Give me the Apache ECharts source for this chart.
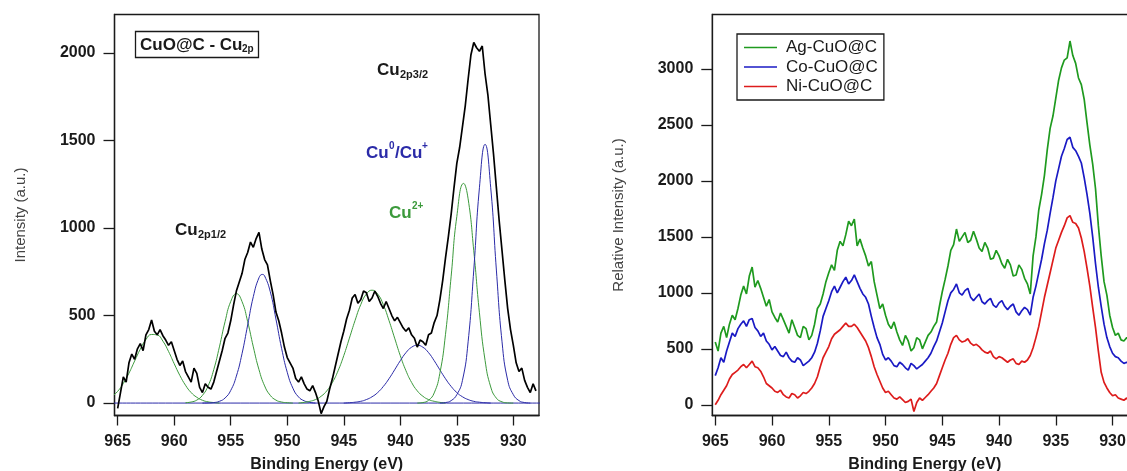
<!DOCTYPE html>
<html>
<head>
<meta charset="utf-8">
<script src="https://cdn.jsdelivr.net/npm/echarts@6/dist/echarts.min.js"></script>
<style>
  html, body { margin: 0; padding: 0; background: #fff; }
  #chart { width: 1127px; height: 471px; }
</style>
</head>
<body>
<div id="chart"></div>
<script>
// measured spectra, read every 0.25 eV starting at 965 eV going down
const measStart = 965
const measStep = 0.25
const cuoC = [-30, 60, 150, 120, 230, 280, 250, 310, 340, 300, 390, 420, 475, 410, 390, 420, 385, 360, 330, 350,
  300, 250, 215, 240, 180, 150, 120, 200, 170, 90, 60, 110, 90, 80, 120, 180, 240, 300, 370, 400,
  470, 560, 640, 690, 740, 820, 860, 920, 890, 940, 975, 880, 820, 790, 700, 620, 520, 470, 400, 320,
  260, 230, 200, 140, 120, 150, 110, 80, 70, 100, 60, 10, -60, -20, 10, 80, 140, 210, 280, 350,
  410, 480, 530, 600, 620, 570, 590, 640, 630, 580, 600, 640, 610, 570, 540, 580, 540, 500, 470, 490,
  460, 430, 410, 430, 390, 370, 320, 360, 350, 330, 390, 400, 460, 500, 590, 700, 830, 950, 1080, 1230,
  1370, 1460, 1580, 1700, 1850, 1990, 2060, 2030, 2010, 2040, 1880, 1760, 1590, 1420, 1230, 1040, 870, 700, 540, 420,
  330, 230, 180, 200, 130, 90, 60, 110, 70]
const agCuoC = [560, 480, 640, 700, 600, 720, 800, 760, 860, 980, 1060, 990, 1150, 1230, 1050, 1110, 1040, 960, 880, 940,
  830, 780, 740, 820, 760, 700, 640, 760, 690, 620, 600, 700, 680, 580, 620, 720, 860, 900, 990, 1100,
  1180, 1250, 1200, 1380, 1460, 1420, 1520, 1640, 1600, 1660, 1420, 1480, 1400, 1330, 1240, 1280, 1100, 980, 860, 900,
  800, 720, 680, 740, 650, 580, 530, 620, 570, 480, 510, 600, 580, 500, 560, 620, 650, 700, 740, 880,
  1010, 1120, 1240, 1380, 1430, 1570, 1460, 1500, 1540, 1450, 1470, 1550, 1480, 1400, 1370, 1450, 1400, 1300, 1310, 1380,
  1330, 1260, 1220, 1300, 1250, 1150, 1160, 1250, 1210, 1130, 1080, 990, 1330, 1500, 1740, 1880, 2050, 2280, 2470, 2580,
  2740, 2900, 3010, 3080, 3100, 3250, 3120, 3050, 2920, 2860, 2730, 2520, 2320, 2150, 1930, 1600, 1330, 1100, 980, 800,
  690, 620, 640, 580, 570, 600, 560, 520, 540]
const coCuoC = [260, 330, 420, 380, 480, 560, 640, 610, 680, 720, 750, 700, 760, 770, 690, 660, 610, 640, 570, 540,
  490, 520, 480, 440, 430, 470, 420, 390, 380, 420, 400, 350, 370, 390, 420, 470, 550, 660, 790, 860,
  930, 1010, 1060, 1000, 1050, 1100, 1140, 1080, 1110, 1160, 1100, 1040, 990, 960, 900, 790, 690, 600, 540, 450,
  400, 420, 390, 350, 340, 380, 360, 330, 310, 370, 350, 320, 340, 360, 390, 420, 460, 520, 570, 650,
  730, 830, 930, 1000, 1030, 1080, 1000, 980, 1020, 1040, 960, 930, 960, 990, 920, 900, 930, 950, 890, 870,
  910, 930, 880, 850, 880, 900, 830, 800, 840, 870, 850, 800, 960, 1060, 1180, 1300, 1440, 1560, 1710, 1850,
  2000, 2110, 2220, 2290, 2370, 2390, 2300, 2270, 2220, 2160, 2030, 1880, 1710, 1500, 1260, 1050, 880, 720, 600, 520,
  460, 430, 420, 390, 370, 380, 350, 320, 330]
const niCuoC = [0, 40, 90, 130, 170, 230, 270, 290, 310, 340, 360, 330, 360, 390, 340, 330, 300, 250, 190, 170,
  150, 120, 110, 130, 90, 70, 60, 100, 90, 60, 80, 110, 100, 120, 150, 190, 250, 340, 420, 470,
  520, 590, 630, 650, 670, 700, 730, 700, 700, 720, 690, 650, 610, 570, 510, 430, 340, 270, 210, 150,
  110, 120, 90, 60, 50, 70, 45, 20, 30, 50, -60, 20, 60, 40, 65, 90, 120, 150, 190, 260,
  330, 400, 460, 540, 600, 620, 580, 560, 570, 590, 550, 530, 540, 520, 490, 470, 460, 480, 430, 410,
  430, 420, 400, 380, 400, 410, 370, 360, 390, 380, 400, 440, 510, 600, 700, 830, 960, 1070, 1180, 1290,
  1400, 1470, 1540, 1600, 1670, 1690, 1630, 1620, 1580, 1490, 1370, 1220, 1060, 870, 690, 480, 290, 200, 150, 110,
  80, 90, 60, 50, 40, 60, 30, 20, 40]

// fitted components of the left panel, [binding energy, intensity]
const cu2Sat = [[965.5, 37], [965, 67], [964.5, 112], [964, 171], [963.5, 240], [963, 308], [962.5, 363], [962, 392],
  [961.5, 389], [961, 354], [960.5, 295], [960, 225], [959.5, 158], [959, 102], [958.5, 60], [958, 33], [957.5, 16],
  [957, 7], [956.5, 3], [956, 0]]
const cu2p12Cu2 = [[959, 2], [958.5, 6], [958, 17], [957.5, 44], [957, 98], [956.5, 191], [956, 321], [955.5, 465],
  [955, 580], [954.5, 625], [954, 580], [953.5, 465], [953, 321], [952.5, 191], [952, 98], [951.5, 44], [951, 17],
  [950.5, 6], [950, 2], [949.5, 0]]
const cu2p12Cu0 = [[957.5, 0], [957, 1], [956.5, 3], [956, 10], [955.5, 29], [955, 72], [954.5, 154], [954, 282],
  [953.5, 446], [953, 608], [952.5, 716], [952.2, 735], [952, 726], [951.5, 636], [951, 480], [950.5, 313], [950, 176],
  [949.5, 85], [949, 35], [948.5, 13], [948, 4], [947.5, 0]]
const satCu2 = [[949, 0], [948.5, 4], [948, 10], [947.5, 20], [947, 39], [946.5, 70], [946, 118], [945.5, 185],
  [945, 271], [944.5, 371], [944, 472], [943.5, 562], [943, 623], [942.5, 645], [942, 623], [941.5, 562], [941, 472],
  [940.5, 371], [940, 271], [939.5, 185], [939, 118], [938.5, 70], [938, 39], [937.5, 20], [937, 10], [936.5, 4], [936, 0]]
const satCu0 = [[945, 0], [944.5, 2], [944, 5], [943.5, 10], [943, 20], [942.5, 36], [942, 60], [941.5, 95],
  [941, 139], [940.5, 190], [940, 242], [939.5, 288], [939, 319], [938.5, 330], [938, 319], [937.5, 288], [937, 242],
  [936.5, 190], [936, 139], [935.5, 95], [935, 60], [934.5, 36], [934, 20], [933.5, 10], [933, 5], [932.5, 2], [932, 0]]
const cu2p32Cu2 = [[938.5, 0], [938, 3], [937.5, 16], [937, 58], [936.5, 170], [936, 393], [935.5, 725], [935, 1066],
  [934.4, 1255], [934, 1167], [933.5, 870], [933, 516], [932.5, 244], [932, 92], [931.5, 28], [931, 7], [930.5, 1], [930, 0]]
const cu2p32Cu0 = [[936.5, 0], [936, 3], [935.5, 14], [935, 48], [934.5, 130], [934, 350], [933.5, 760], [933, 1230],
  [932.5, 1478], [932, 1230], [931.5, 760], [931, 350], [930.5, 130], [930, 48], [929.5, 14], [929, 3], [928.5, 0]]
const baseline = [[965.5, 0], [927, 0]]

const xTicks = [965, 960, 955, 950, 945, 940, 935, 930]
const yTicksLeft = [0, 500, 1000, 1500, 2000]
const yTicksRight = [0, 500, 1000, 1500, 2000, 2500, 3000]
const legendNames = ['Ag-CuO@C', 'Co-CuO@C', 'Ni-CuO@C']

const font = '"Liberation Sans", Arial, sans-serif'
const ink = '#1a1a1a'
const green = '#3c9a3c'
const navy = '#2b2ba8'

function withEnergy (values) {
  return values.map((v, i) => [measStart - i * measStep, v])
}

function xAxisCfg (gridIndex, min, max) {
  return {
    type: 'value', gridIndex: gridIndex, min: min, max: max, inverse: true,
    name: 'Binding Energy (eV)', nameLocation: 'middle', nameGap: 41,
    nameTextStyle: { fontFamily: font, fontSize: 16, fontWeight: 'bold', color: ink },
    axisLine: { onZero: false, lineStyle: { color: ink, width: 1.3 } },
    axisTick: { inside: false, length: 10, customValues: xTicks, lineStyle: { color: ink, width: 1.3 } },
    axisLabel: { customValues: xTicks, formatter: v => String(v), margin: 18,
      fontFamily: font, fontSize: 16, fontWeight: 'bold', color: ink },
    splitLine: { show: false }
  }
}

function yAxisCfg (gridIndex, min, max, ticks, name) {
  return {
    type: 'value', gridIndex: gridIndex, min: min, max: max,
    name: name, nameLocation: 'middle', nameGap: 86,
    nameTextStyle: { fontFamily: font, fontSize: 15, color: '#444' },
    axisLine: { onZero: false, lineStyle: { color: ink, width: 1.3 } },
    axisTick: { inside: false, length: 11, customValues: ticks, lineStyle: { color: ink, width: 1.3 } },
    axisLabel: { customValues: ticks, formatter: v => String(v), margin: 19,
      fontFamily: font, fontSize: 16, fontWeight: 'bold', color: ink },
    splitLine: { show: false }
  }
}

function fitLine (data, color) {
  return {
    type: 'line', xAxisIndex: 0, yAxisIndex: 0, data: data, smooth: true,
    symbol: 'none', lineStyle: { color: color, width: 1 }, z: 2
  }
}

function measLine (name, values, color, axis) {
  return {
    name: name, type: 'line', xAxisIndex: axis, yAxisIndex: axis, data: withEnergy(values),
    symbol: 'none', lineStyle: { color: color, width: 1.7 }, itemStyle: { color: color }, z: 3
  }
}

function label (x, y, text, size, color) {
  return {
    type: 'text', x: x, y: y, z: 10,
    style: { text: text, fontFamily: font, fontSize: size, fontWeight: 'bold', fill: color, verticalAlign: 'middle' }
  }
}

const chart = echarts.init(document.getElementById('chart'))
chart.setOption({
  animation: false,
  backgroundColor: '#fff',
  grid: [
    { left: 114.5, top: 14.5, width: 424.5, height: 401, outerBoundsMode: 'none',
      show: true, borderColor: ink, borderWidth: 1.3 },
    { left: 712.3, top: 14.5, width: 425, height: 401, outerBoundsMode: 'none',
      show: true, borderColor: ink, borderWidth: 1.3 }
  ],
  xAxis: [xAxisCfg(0, 927.73, 965.28), xAxisCfg(1, 927.82, 965.26)],
  yAxis: [
    yAxisCfg(0, -71, 2220, yTicksLeft, 'Intensity (a.u.)'),
    yAxisCfg(1, -96, 3487, yTicksRight, 'Relative Intensity (a.u.)')
  ],
  legend: {
    data: legendNames, selectedMode: false,
    orient: 'vertical', left: 737, top: 34,
    borderColor: ink, borderWidth: 1.3, padding: [5, 6, 5, 7],
    icon: 'rect', itemWidth: 33, itemHeight: 1.5, itemGap: 2.5,
    textStyle: { fontFamily: font, fontSize: 17, lineHeight: 15, color: ink, padding: [0, 0, 0, 4] }
  },
  graphic: [
    { type: 'rect', z: 9, shape: { x: 135.5, y: 31.5, width: 123, height: 26 },
      style: { fill: '#fff', stroke: ink, lineWidth: 1.3 } },
    label(140, 45, 'CuO@C - Cu', 17, ink),
    label(242, 49, '2p', 10, ink),
    label(377, 70, 'Cu', 17, ink),
    label(400, 75, '2p3/2', 11, ink),
    label(366, 153, 'Cu', 17, navy),
    label(389, 146, '0', 10, navy),
    label(395, 153, '/Cu', 17, navy),
    label(422, 146, '+', 10, navy),
    label(389, 213, 'Cu', 17, green),
    label(412, 206, '2+', 10, green),
    label(175, 230, 'Cu', 17, ink),
    label(198, 235, '2p1/2', 11, ink)
  ],
  series: [
    fitLine(baseline, navy),
    fitLine(cu2Sat, green),
    fitLine(cu2p12Cu2, green),
    fitLine(cu2p12Cu0, navy),
    fitLine(satCu2, green),
    fitLine(satCu0, navy),
    fitLine(cu2p32Cu2, green),
    fitLine(cu2p32Cu0, navy),
    measLine('CuO@C', cuoC, '#000', 0),
    measLine('Ag-CuO@C', agCuoC, '#1f9a1f', 1),
    measLine('Co-CuO@C', coCuoC, '#1a1ac4', 1),
    measLine('Ni-CuO@C', niCuoC, '#dd1c1c', 1)
  ]
})
</script>
</body>
</html>
